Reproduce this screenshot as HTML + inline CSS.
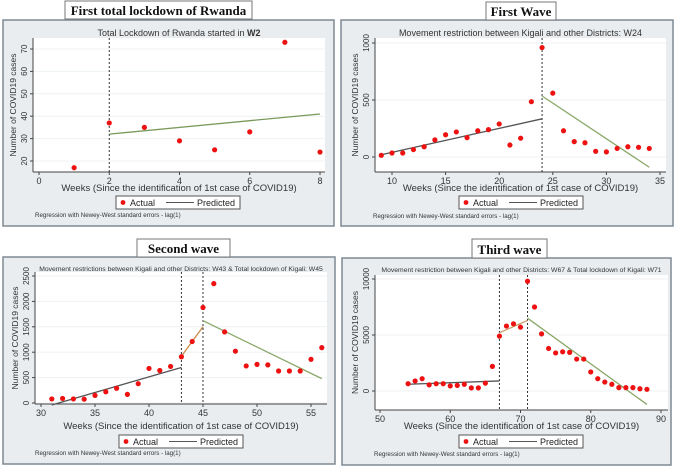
<!DOCTYPE html>
<html><head><meta charset="utf-8"><style>
body{margin:0;background:#fff;width:676px;height:466px;overflow:hidden;font-family:"Liberation Sans",sans-serif}
svg{display:block}
</style></head><body>
<svg id="s" width="676" height="466" xmlns="http://www.w3.org/2000/svg"></svg>
<script>
// Panel 1 data
const p1Weeks=[1,2,3,4,5,6,7,8];
const p1Cases=[17,37,35,29,25,33,73,24];
const p1XTicks=[0,2,4,6,8];
const p1YTicks=[20,30,40,50,60,70];
// Panel 2 data
const p2Weeks=[9,10,11,12,13,14,15,16,17,18,19,20,21,22,23,24,25,26,27,28,29,30,31,32,33,34];
const p2Cases=[15,35,35,65,90,150,195,220,170,230,240,290,105,165,485,960,560,230,135,125,50,45,75,90,85,75];
const p2XTicks=[10,15,20,25,30,35];
const p2YTicks=[0,500,1000];
// Panel 3 data
const p3Weeks=[31,32,33,34,35,36,37,38,39,40,41,42,43,44,45,46,47,48,49,50,51,52,53,54,55,56];
const p3Cases=[80,90,80,75,150,220,290,170,380,680,640,720,910,1210,1880,2350,1400,1020,730,760,750,630,630,630,860,1090];
const p3XTicks=[30,35,40,45,50,55];
const p3YTicks=[0,500,1000,1500,2000,2500];
// Panel 4 data
const p4Weeks=[54,55,56,57,58,59,60,61,62,63,64,65,66,67,68,69,70,71,72,73,74,75,76,77,78,79,80,81,82,83,84,85,86,87,88];
const p4Cases=[650,900,1100,550,650,650,450,500,600,280,280,700,2200,4900,5800,6000,5700,9800,7500,5100,3800,3400,3500,3450,2850,2850,1700,1100,800,600,300,300,300,200,150];
const p4XTicks=[50,60,70,80,90];
const p4YTicks=[0,5000,10000];
// Predicted segments [x0,y0,x1,y1]
const p1Pred=[[2,32,8,41]];
const p2Pred=[[9,20,24,335],[24,535,34,-90]];
const p3Pred=[[31,-40,43,700],[43,920,45,1500],[45,1620,56,480]];
const p4Pred=[[54,600,67,900],[67,5200,71,6300],[71,6500,88,-1200]];
const predColors=[["#7a9a5a"],["#555","#8aa868"],["#555","#c98a4a","#8aa868"],["#555","#c9a070","#8aa868"]];

const S=document.getElementById('s');const NS='http://www.w3.org/2000/svg';
function el(t,a,p){const e=document.createElementNS(NS,t);for(const k in a)e.setAttribute(k,a[k]);(p||S).appendChild(e);return e;}
function txt(x,y,s,a,p){const e=el('text',Object.assign({x:x,y:y},a),p);e.textContent=s;return e;}

const panels=[
 {id:'p1',title:'First total lockdown of Rwanda',tb:[65,1,187,18],box:[3,20,331,206],plot:[33,38,325,172],
  xd:[0,8],xp:[39,320],yd:[20,70],yp:[161,49],sub:'Total Lockdown of Rwanda started in ',subB:'W2',subY:36,subF:9,
  w:p1Weeks,c:p1Cases,xt:p1XTicks,yt:p1YTicks,pred:p1Pred,vl:[2],xtitY:191,leg:[116,196,124,13],noteY:217},
 {id:'p2',title:'First Wave',tb:[486,2,70,18],box:[341,20,332,206],plot:[375,38,666,172],
  xd:[10,35],xp:[392,660],yd:[0,1000],yp:[157,43],sub:'Movement restriction between Kigali and other Districts: W24',subY:36,subF:9,
  w:p2Weeks,c:p2Cases,xt:p2XTicks,yt:p2YTicks,pred:p2Pred,vl:[24],xtitY:191,leg:[459,196,124,13],noteY:218},
 {id:'p3',title:'Second wave',tb:[137,239,93,18],box:[3,257,332,207],plot:[35,272,327,404],
  xd:[30,55],xp:[41,311],yd:[0,2500],yp:[403,276],sub:'Movement restrictions between Kigali and other Districts: W43 & Total lockdown of Kigali: W45',subY:271,subF:6.8,
  w:p3Weeks,c:p3Cases,xt:p3XTicks,yt:p3YTicks,pred:p3Pred,vl:[43,45],xtitY:429,leg:[119,435,124,13],noteY:455},
 {id:'p4',title:'Third wave',tb:[472,239,75,19],box:[342,258,329,207],plot:[375,275,668,410],
  xd:[50,90],xp:[380,661],yd:[0,10000],yp:[391,279],sub:'Movement restriction between Kigali and other Districts: W67 & Total lockdown of Kigali: W71',subY:272,subF:6.8,
  w:p4Weeks,c:p4Cases,xt:p4XTicks,yt:p4YTicks,pred:p4Pred,vl:[67,71],xtitY:429,leg:[459,435,124,13],noteY:456}
];
panels.forEach((P,pi)=>{
 const g=el('g',{});
 
 
 const X=v=>P.xp[0]+(v-P.xd[0])/(P.xd[1]-P.xd[0])*(P.xp[1]-P.xp[0]);
 const Y=v=>P.yp[0]+(v-P.yd[0])/(P.yd[1]-P.yd[0])*(P.yp[1]-P.yp[0]);
 const b=el('rect',{x:P.box[0],y:P.box[1],width:P.box[2],height:P.box[3],fill:'#e9edf0',stroke:'#7f8a92','stroke-width':1.5},g);
 
 const tb=el('rect',{x:P.tb[0],y:P.tb[1],width:P.tb[2],height:P.tb[3],fill:'#fff',stroke:'#777','stroke-width':1},g);
 
 const tt=txt(P.tb[0]+P.tb[2]/2,P.tb[1]+P.tb[3]-4,P.title,{'font-family':'Liberation Serif,serif','font-weight':'bold','font-size':13,'text-anchor':'middle',fill:'#111'},g);
 
 const pl=P.plot;
 const pa=el('rect',{x:pl[0],y:pl[1],width:pl[2]-pl[0],height:pl[3]-pl[1],fill:'#fff'},g);
 
 const st=txt((pl[0]+pl[2])/2,P.subY,P.sub,{'font-size':P.subF,'text-anchor':'middle',fill:'#333'},g);
 
 if(P.subB){const ts=el('tspan',{'font-weight':'bold'},st);ts.textContent=P.subB;}
 P.yt.forEach(v=>{const y=Y(v);
  el('line',{x1:pl[0],x2:pl[2],y1:y,y2:y,stroke:'#eef2f4','stroke-width':1},g);
  el('line',{x1:pl[0]-3,x2:pl[0],y1:y,y2:y,stroke:'#444'},g);
  const t=txt(pl[0]-6,y,String(v),{'font-size':8,'text-anchor':'middle',fill:'#333',transform:`rotate(-90 ${pl[0]-6} ${y})`},g);
  });
 P.xt.forEach(v=>{const x=X(v);
  el('line',{x1:x,x2:x,y1:pl[3],y2:pl[3]+3,stroke:'#444'},g);
  const t=txt(x,pl[3]+12,String(v),{'font-size':9,'text-anchor':'middle',fill:'#333'},g);
  });
 el('line',{x1:pl[0],x2:pl[0],y1:pl[1],y2:pl[3],stroke:'#444'},g);
 el('line',{x1:pl[0],x2:pl[2],y1:pl[3],y2:pl[3],stroke:'#444'},g);
 const yt=txt(pl[0]-17,(pl[1]+pl[3])/2,'Number of COVID19 cases',{'font-size':8.5,'text-anchor':'middle',fill:'#333',transform:`rotate(-90 ${pl[0]-17} ${(pl[1]+pl[3])/2})`},g);
 
 const xt=txt((pl[0]+pl[2])/2,P.xtitY,'Weeks (Since the identification of 1st case of COVID19)',{'font-size':9.5,'text-anchor':'middle',fill:'#333'},g);
 
 P.vl.forEach(v=>{const l=el('line',{x1:X(v),x2:X(v),y1:pl[1],y2:pl[3],stroke:'#333','stroke-dasharray':'2,2','stroke-width':1},g);
  });
 P.pred.forEach((s,i)=>{const l=el('line',{x1:X(s[0]),y1:Y(s[1]),x2:X(s[2]),y2:Y(s[3]),stroke:predColors[pi][i],'stroke-width':1.3},g);
  });
 P.w.forEach((w,i)=>{const c=el('circle',{cx:X(w),cy:Y(P.c[i]),r:2.6,fill:'#ee1111'},g);
  });
 const L=P.leg;
 const lg=el('g',{},g);
 el('rect',{x:L[0],y:L[1],width:L[2],height:L[3],fill:'#fff',stroke:'#555'},lg);
 el('circle',{cx:L[0]+7,cy:L[1]+6.5,r:2.4,fill:'#ee1111'},lg);
 txt(L[0]+14,L[1]+10,'Actual',{'font-size':9,fill:'#222'},lg);
 el('line',{x1:L[0]+50,x2:L[0]+78,y1:L[1]+6.5,y2:L[1]+6.5,stroke:'#555'},lg);
 txt(L[0]+81,L[1]+10,'Predicted',{'font-size':9,fill:'#222'},lg);
 const n=txt(P.box[0]+32,P.noteY,'Regression with Newey-West standard errors - lag(1)',{'font-size':6.2,fill:'#333'},g);
 
});
</script>
</body></html>
